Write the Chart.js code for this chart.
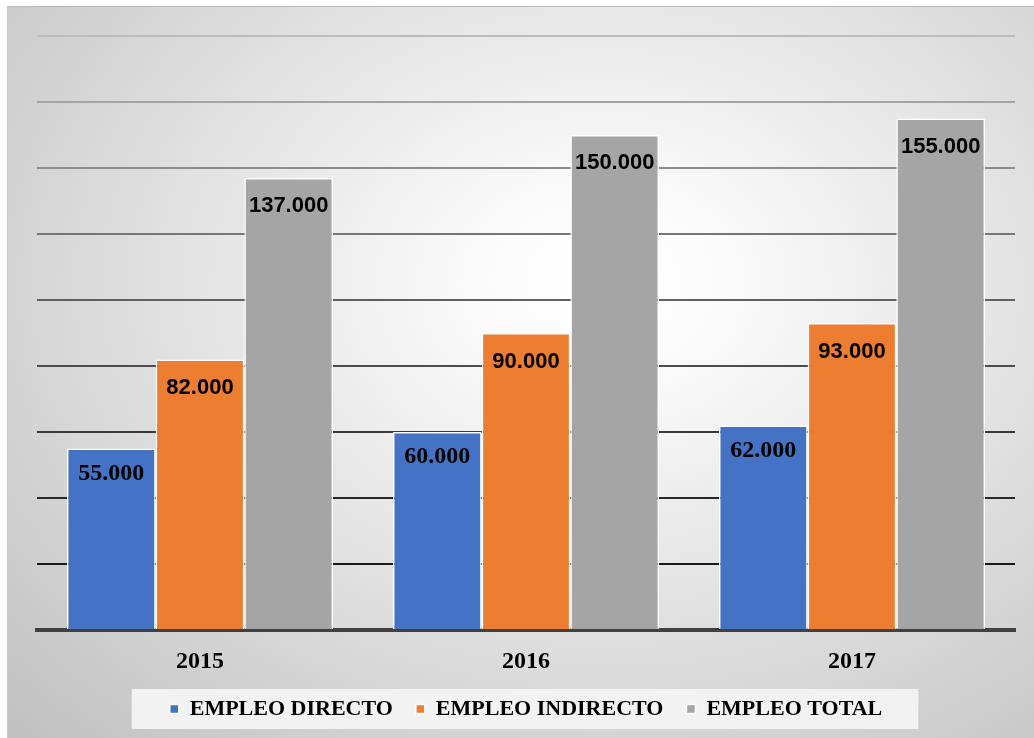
<!DOCTYPE html>
<html>
<head>
<meta charset="utf-8">
<script src="https://cdn.jsdelivr.net/npm/chart.js@4.4.1/dist/chart.umd.min.js"></script>
<style>
  html, body { margin: 0; padding: 0; background: #fff; }
  #bg {
    position: absolute; left: 7px; top: 6px; right: 0; bottom: 0;
    border-top: 1px solid #b9b9b9; border-left: 1px solid #c6c6c6;
    background: radial-gradient(ellipse at 58% 38%, #ffffff 0%, #fbfbfb 14%, #c0c0c0 100%);
  }
  #wrap { position: absolute; left: 0; top: 0; width: 1034px; height: 738px; }
</style>
</head>
<body>
<div id="bg"></div>
<div id="wrap"><canvas id="chart"></canvas></div>
<script>
const years = ['2015', '2016', '2017'];
const empleoDirecto = [55000, 60000, 62000];
const empleoIndirecto = [82000, 90000, 93000];
const empleoTotal = [137000, 150000, 155000];
const seriesNames = ['EMPLEO DIRECTO', 'EMPLEO INDIRECTO', 'EMPLEO TOTAL'];

const serif = '"Liberation Serif", "Times New Roman", serif';
const sans = '"Liberation Sans", Arial, sans-serif';

const fmt = v => String(v).replace(/\B(?=(\d{3})+(?!\d))/g, '.');

// labels inside the top of each bar
const barLabels = {
    id: 'barLabels',
    afterDatasetsDraw(chart, args, opts) {
        const ctx = chart.ctx;
        ctx.save();
        ctx.textAlign = 'center';
        ctx.textBaseline = 'middle';
        ctx.fillStyle = '#000';
        chart.data.datasets.forEach((ds, i) => {
            const meta = chart.getDatasetMeta(i);
            ctx.font = opts.fonts[i];
            meta.data.forEach((bar, j) => {
                ctx.fillText(fmt(ds.data[j]), bar.x, bar.y + opts.offsets[i]);
            });
        });
        ctx.restore();
    }
};

// light box behind the legend
const legendBox = {
    id: 'legendBox',
    beforeDraw(chart) {
        const lg = chart.legend;
        if (!lg || !lg.legendHitBoxes.length) return;
        const hb = lg.legendHitBoxes;
        const first = hb[0], last = hb[hb.length - 1];
        const cy = first.top + first.height / 2;
        const ctx = chart.ctx;
        ctx.save();
        ctx.fillStyle = '#f2f2f2';
        ctx.fillRect(first.left - 38, cy - 20, last.left + last.width + 36 - (first.left - 38), 40);
        ctx.restore();
    }
};

new Chart(document.getElementById('chart').getContext('2d'), {
    type: 'bar',
    data: {
        labels: years,
        datasets: [
            { label: seriesNames[0], data: empleoDirecto, backgroundColor: '#4472C4' },
            { label: seriesNames[1], data: empleoIndirecto, backgroundColor: '#ED7D31' },
            { label: seriesNames[2], data: empleoTotal, backgroundColor: '#A5A5A5' }
        ]
    },
    options: {
        responsive: true,
        maintainAspectRatio: false,
        animation: false,
        layout: { padding: { left: 37, right: 19, top: 36, bottom: 8 } },
        datasets: {
            bar: {
                borderColor: '#ffffff',
                borderWidth: 1.5,
                barPercentage: 1,
                categoryPercentage: 0.816
            }
        },
        scales: {
            x: {
                grid: { display: false, drawTicks: false },
                border: { display: true, color: '#404040', width: 4 },
                ticks: {
                    color: '#000',
                    padding: 17.6,
                    font: { family: serif, size: 24, weight: 'bold', lineHeight: 1.2 }
                },
                afterFit: s => { s.height = 45; }
            },
            y: {
                min: 0,
                max: 180000,
                ticks: { display: false, stepSize: 20000 },
                border: { display: false },
                grid: {
                    drawTicks: false,
                    lineWidth: 2,
                    color: c => {
                        const t = (c.tick ? c.tick.value : 0) / 180000;
                        const g = Math.round(16 + 172 * Math.pow(t, 1.3));
                        return `rgb(${g},${g},${g})`;
                    }
                }
            }
        },
        plugins: {
            legend: {
                position: 'bottom',
                labels: {
                    color: '#000',
                    boxWidth: 9,
                    boxHeight: 9,
                    padding: 23,
                    font: { family: serif, size: 22, weight: 'bold' }
                }
            },
            tooltip: { enabled: false },
            barLabels: {
                fonts: [
                    'bold 24px ' + serif,
                    'bold 22px ' + sans,
                    'bold 22px ' + sans
                ],
                offsets: [25, 29, 28]
            }
        }
    },
    plugins: [barLabels, legendBox]
});
</script>
</body>
</html>
